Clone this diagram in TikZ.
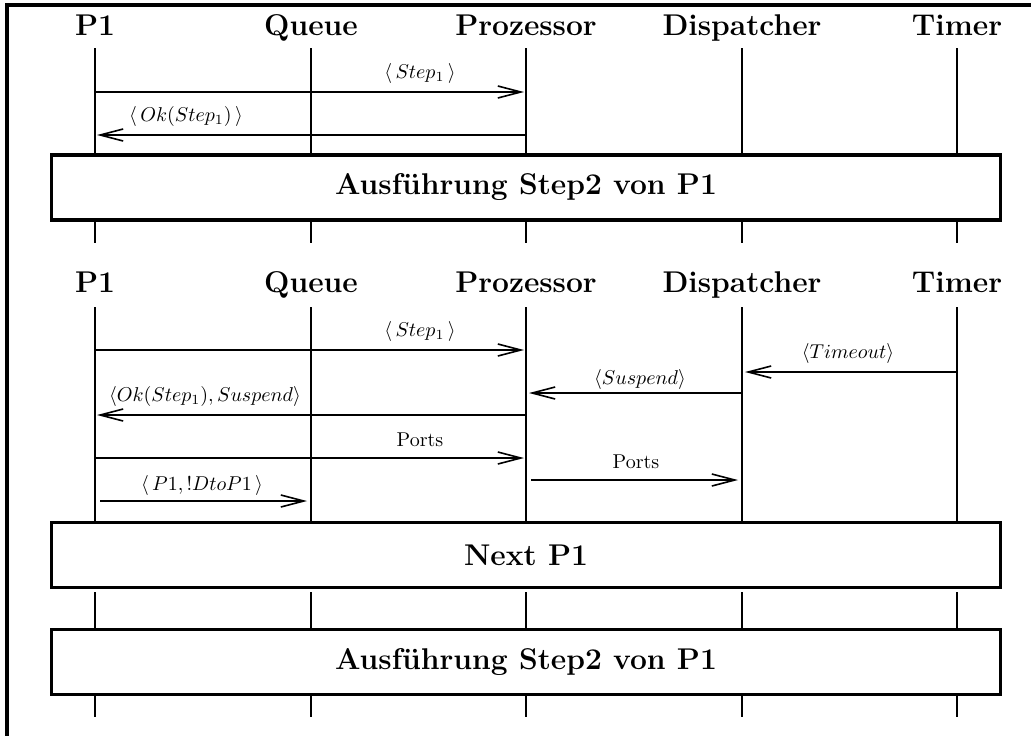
\documentclass[tikz,border=0pt]{standalone}
\usetikzlibrary{arrows.meta}
\tikzset{
  hdr/.style={font=\fontsize{15}{18}\selectfont\bfseries, inner sep=0pt, anchor=base},
  lbl/.style={font=\fontsize{10}{12}\selectfont, inner sep=0pt, anchor=base},
  life/.style={line width=1pt},
  lifethick/.style={line width=1.3pt},
  msg/.style={line width=1pt, -{Straight Barb[length=11.5pt,width=6pt,line width=0.8pt]}},
  phase/.style={draw, line width=1.6pt, minimum width=474.5pt, minimum height=32.5pt,
    inner sep=0pt, font=\fontsize{15}{18}\selectfont\bfseries},
  frameline/.style={line width=1.7pt},
}
\begin{document}
\begin{tikzpicture}[x=0.5pt,y=-0.5pt]
\useasboundingbox (0,0) rectangle (1031,735);
% frame
\coordinate (fbl) at (7,737);
\coordinate (ftl) at (7,5);
\coordinate (ftr) at (1033,5);
\draw[frameline] (fbl) -- (ftl) -- (ftr);

% headers
\node[hdr] (hA1) at (95,35) {P1};
\node[hdr] (hB1) at (311,35) {Queue};
\node[hdr] (hC1) at (526,35) {Prozessor};
\node[hdr] (hD1) at (742,35) {Dispatcher};
\node[hdr] (hE1) at (957,35) {Timer};
\node[hdr] (hA2) at (95,292) {P1};
\node[hdr] (hB2) at (311,292) {Queue};
\node[hdr] (hC2) at (526,292) {Prozessor};
\node[hdr] (hD2) at (742,292) {Dispatcher};
\node[hdr] (hE2) at (957,292) {Timer};

% phase boxes
\node[phase] (box1) at (526,187.5) {Ausf\"uhrung Step2 von P1};
\node[phase] (box2) at (526,555) {Next P1};
\node[phase] (box3) at (526,662) {Ausf\"uhrung Step2 von P1};

% lifelines
\foreach \n/\x in {A/95,B/311,C/526,D/742,E/957}{
  \coordinate (\n t1) at (\x,48);
  \coordinate (\n b1) at (\x,155);
  \coordinate (\n s1) at (\x,221);
  \coordinate (\n e1) at (\x,243);
  \coordinate (\n t2) at (\x,307);
  \coordinate (\n b2) at (\x,522);
  \coordinate (\n s2) at (\x,592);
  \coordinate (\n e2) at (\x,630);
  \coordinate (\n s3) at (\x,696);
  \coordinate (\n e3) at (\x,717);
  \draw[life] (\n t1) -- (\n b1);
  \draw[life] (\n s1) -- (\n e1);
  \draw[life] (\n t2) -- (\n b2);
  \draw[lifethick] (\n s2) -- (\n e2);
  \draw[life] (\n s3) -- (\n e3);
}

% section 1 messages
\coordinate (m1s) at (95,92);   \coordinate (m1e) at (524,92);
\coordinate (m2s) at (526,135); \coordinate (m2e) at (97,135);
\draw[msg] (m1s) -- (m1e);
\draw[msg] (m2s) -- (m2e);
\node[lbl] (l1) at (420,78) {$\langle\, Step_1\,\rangle$};
\node[lbl] (l2) at (186,121) {$\langle\, Ok(Step_1)\,\rangle$};

% section 2 messages
\coordinate (n1s) at (95,350);  \coordinate (n1e) at (524,350);
\coordinate (n2s) at (957,372); \coordinate (n2e) at (745,372);
\coordinate (n3s) at (742,393); \coordinate (n3e) at (529,393);
\coordinate (n4s) at (526,415); \coordinate (n4e) at (97,415);
\coordinate (n5s) at (95,458);  \coordinate (n5e) at (524,458);
\coordinate (n6s) at (531,480); \coordinate (n6e) at (738,480);
\coordinate (n7s) at (100,501); \coordinate (n7e) at (307,501);
\draw[msg] (n1s) -- (n1e);
\draw[msg] (n2s) -- (n2e);
\draw[msg] (n3s) -- (n3e);
\draw[msg] (n4s) -- (n4e);
\draw[msg] (n5s) -- (n5e);
\draw[msg] (n6s) -- (n6e);
\draw[msg] (n7s) -- (n7e);
\node[lbl] (k1) at (420,336) {$\langle\, Step_1\,\rangle$};
\node[lbl] (k2) at (848,358) {$\langle Timeout\rangle$};
\node[lbl] (k3) at (640,384) {$\langle Suspend\rangle$};
\node[lbl] (k4) at (205,401) {$\langle Ok(Step_1), Suspend\rangle$};
\node[lbl] (k5) at (420,446) {Ports};
\node[lbl] (k6) at (636,468) {Ports};
\node[lbl] (k7) at (202,490) {$\langle\, P1, !DtoP1\,\rangle$};
\end{tikzpicture}
\end{document}
